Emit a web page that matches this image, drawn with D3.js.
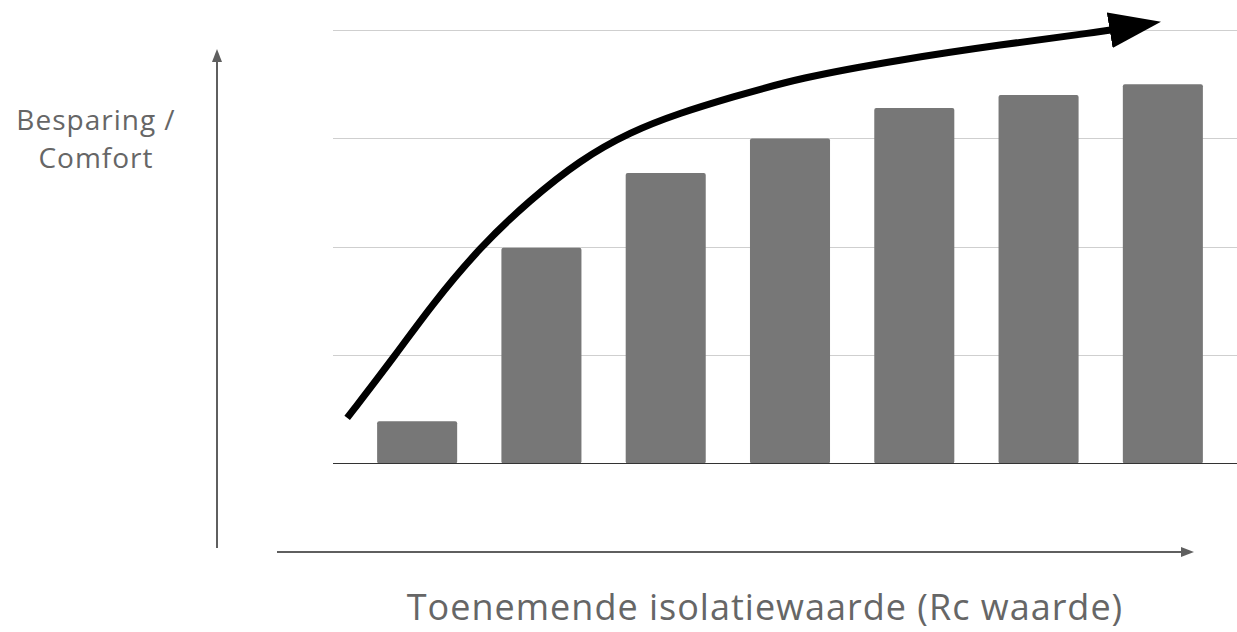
<!doctype html>
<html>
<head>
  <meta charset="utf-8">
  <title>Besparing / Comfort</title>
  <style>
  body { margin: 0; background: #fff; }
  svg { display: block; }
  text { font-family: "Open Sans", "Noto Sans", sans-serif; font-weight: 400; fill: #666; }
  </style>
</head>
<body>
  <div id="vis"></div>
  <script src="https://d3js.org/d3.v7.min.js"></script>
  <script>
  var width = 1237;
  var height = 632;

  // bar heights (no numeric axis in the picture, grid = 1 unit)
  var steps = ['1', '2', '3', '4', '5', '6', '7'];
  var values = [0.39, 1.99, 2.68, 3.0, 3.28, 3.4, 3.5];
  var gridTicks = [0, 1, 2, 3, 4];

  // trend arrow, in bar-index / value units
  var trendIdx = [-0.563, -0.161, 0.105, 0.507, 0.909, 1.311, 1.714, 2.116, 2.518, 3.08, 3.886, 4.69, 5.495, 5.58];
  var trendVal = [0.42, 1.02, 1.445, 2.0, 2.433, 2.80, 3.06, 3.235, 3.375, 3.56, 3.726, 3.864, 3.984, 4.0];

  var yLabel = ['Besparing /', 'Comfort'];
  var xLabel = 'Toenemende isolatiewaarde (Rc waarde)';

  var svg = d3.select('#vis').append('svg')
    .attr('width', width)
    .attr('height', height);

  var x = d3.scaleBand().domain(steps).range([333, 1247]).paddingInner(0.356).paddingOuter(0.355);
  var y = d3.scaleLinear().domain([0, 4]).range([463.5, 30]);
  var xi = d3.scaleLinear().domain([0, 1]).range([x('1') + x.bandwidth() / 2, x('2') + x.bandwidth() / 2]);

  var defs = svg.append('defs');
  defs.append('marker')
    .attr('id', 'big-head')
    .attr('markerUnits', 'userSpaceOnUse')
    .attr('viewBox', '0 -18 52 36')
    .attr('refX', 1).attr('refY', 0)
    .attr('markerWidth', 52).attr('markerHeight', 36)
    .attr('orient', 'auto')
    .append('path').attr('d', 'M0,-18L52,0L0,18Z').attr('fill', '#000');
  defs.append('marker')
    .attr('id', 'axis-head')
    .attr('markerUnits', 'userSpaceOnUse')
    .attr('viewBox', '0 -5 13 10')
    .attr('refX', 1).attr('refY', 0)
    .attr('markerWidth', 13).attr('markerHeight', 10)
    .attr('orient', 'auto')
    .append('path').attr('d', 'M0,-5L13,0L0,5Z').attr('fill', '#5f5f5f');

  // grid
  svg.append('g').selectAll('line').data(gridTicks.slice(1)).enter().append('line')
    .attr('x1', 333).attr('x2', width)
    .attr('y1', function(d){ return Math.round(y(d)) + 0.5; })
    .attr('y2', function(d){ return Math.round(y(d)) + 0.5; })
    .attr('stroke', '#cfcfcf').attr('stroke-width', 1);

  // bars
  svg.append('g').selectAll('rect').data(values).enter().append('rect')
    .attr('x', function(d, i){ return x(steps[i]); })
    .attr('y', function(d){ return y(d); })
    .attr('width', x.bandwidth())
    .attr('height', function(d){ return y(0) - y(d); })
    .attr('rx', 2)
    .attr('fill', '#777777');

  // baseline
  svg.append('line')
    .attr('x1', 333).attr('x2', width)
    .attr('y1', y(0)).attr('y2', y(0))
    .attr('stroke', '#333').attr('stroke-width', 1);

  // trend arrow
  var trend = trendIdx.map(function(d, i){ return [d, trendVal[i]]; });
  var line = d3.line()
    .x(function(d){ return xi(d[0]); })
    .y(function(d){ return y(d[1]); })
    .curve(d3.curveBasis);
  svg.append('path').datum(trend)
    .attr('d', line)
    .attr('fill', 'none')
    .attr('stroke', '#000')
    .attr('stroke-width', 7)
    .attr('marker-end', 'url(#big-head)');

  // axis arrows
  svg.append('line')
    .attr('x1', 217).attr('y1', 548).attr('x2', 217).attr('y2', 61)
    .attr('stroke', '#5f5f5f').attr('stroke-width', 2)
    .attr('marker-end', 'url(#axis-head)');
  svg.append('line')
    .attr('x1', 277).attr('y1', 552).attr('x2', 1182).attr('y2', 552)
    .attr('stroke', '#5f5f5f').attr('stroke-width', 2)
    .attr('marker-end', 'url(#axis-head)');

  // labels
  svg.append('text')
    .attr('text-anchor', 'middle')
    .attr('font-size', 28)
    .attr('letter-spacing', 1)
    .selectAll('tspan').data(yLabel).enter().append('tspan')
    .attr('x', 96)
    .attr('y', function(d, i){ return 130 + i * 38; })
    .text(function(d){ return d; });

  svg.append('text')
    .attr('x', 765).attr('y', 620)
    .attr('text-anchor', 'middle')
    .attr('font-size', 36)
    .attr('letter-spacing', 1)
    .text(xLabel);
  </script>
</body>
</html>
